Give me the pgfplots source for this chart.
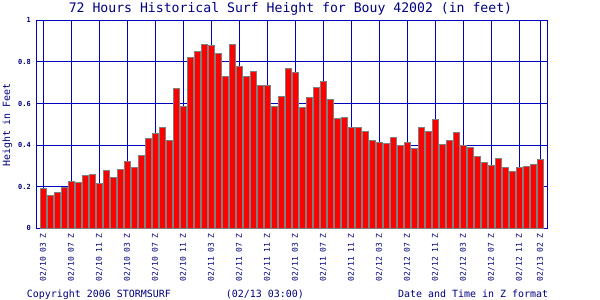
\documentclass[border=0pt]{standalone}
\usepackage{fontspec}
\setmainfont{DejaVu Sans Mono}
\setmonofont{DejaVu Sans Mono}
\usepackage{pgfplots}
\pgfplotsset{compat=1.18}
\definecolor{gridblue}{RGB}{0,0,190}
\definecolor{txtblue}{RGB}{0,0,128}
\definecolor{barred}{RGB}{255,0,0}
\definecolor{bargray}{RGB}{128,128,128}
\pgfplotstableread{
x y
0 0.191
1 0.159
2 0.172
3 0.198
4 0.225
5 0.220
6 0.256
7 0.259
8 0.217
9 0.278
10 0.246
11 0.283
12 0.322
13 0.294
14 0.352
15 0.434
16 0.457
17 0.487
18 0.423
19 0.674
20 0.587
21 0.823
22 0.852
23 0.886
24 0.881
25 0.838
26 0.732
27 0.886
28 0.780
29 0.732
30 0.756
31 0.688
32 0.688
33 0.587
34 0.635
35 0.770
36 0.751
37 0.582
38 0.630
39 0.678
40 0.707
41 0.621
42 0.529
43 0.534
44 0.486
45 0.486
46 0.466
47 0.423
48 0.413
49 0.408
50 0.437
51 0.399
52 0.413
53 0.384
54 0.486
55 0.466
56 0.524
57 0.404
58 0.423
59 0.461
60 0.399
61 0.389
62 0.346
63 0.317
64 0.302
65 0.336
66 0.293
67 0.273
68 0.293
69 0.297
70 0.307
71 0.331
}\surf
\begin{document}
\begin{tikzpicture}
\useasboundingbox (-36.7bp,-71.7bp) rectangle (563.3bp,228.3bp);
\begin{axis}[
  at={(0bp,0bp)}, anchor=south west,
  scale only axis, width=511bp, height=208bp,
  xmin=-0.95, xmax=72.05, ymin=0, ymax=1,
  axis line style={gridblue, line width=1bp},
  grid=major, grid style={gridblue, line width=1bp},
  major tick length=0pt,
  xtick={0,4,8,12,16,20,24,28,32,36,40,44,48,52,56,60,64,68,71},
  xticklabels={02/10 03 Z,02/10 07 Z,02/10 11 Z,02/10 03 Z,02/10 07 Z,02/10 11 Z,
    02/11 03 Z,02/11 07 Z,02/11 11 Z,02/11 03 Z,02/11 07 Z,02/11 11 Z,
    02/12 03 Z,02/12 07 Z,02/12 11 Z,02/12 03 Z,02/12 07 Z,02/12 11 Z,02/13 02 Z},
  xticklabel style={font=\fontsize{8}{8}\selectfont, text=txtblue, rotate=90, anchor=east, inner sep=0pt},
  xticklabel shift=4.7bp,
  ytick={0,0.2,0.4,0.6,0.8,1},
  yticklabels={0,0.2,0.4,0.6,0.8,1},
  yticklabel style={font=\fontsize{7}{7}\selectfont\bfseries, text=txtblue, anchor=east, inner sep=0pt},
  yticklabel shift=5.7bp,
]
\addplot[ybar, bar width=6bp, bar shift=0pt, fill=barred, draw=bargray, line width=1bp] table[x=x,y=y] {\surf};
\end{axis}
\node[anchor=base, text=txtblue, font=\fontsize{13.2}{13.2}\selectfont, inner sep=0pt] at (253.8bp,215.3bp) {72 Hours Historical Surf Height for Bouy 42002 (in feet)};
\node[rotate=90, anchor=center, text=txtblue, font=\fontsize{10}{10}\selectfont, inner sep=0pt] at (-29.2bp,103.3bp) {Height in Feet};
\node[anchor=base west, text=txtblue, font=\fontsize{10}{10}\selectfont, inner sep=0pt] at (-10bp,-69bp) {Copyright 2006 STORMSURF};
\node[anchor=base west, text=txtblue, font=\fontsize{10}{10}\selectfont, inner sep=0pt] at (189bp,-69bp) {(02/13 03:00)};
\node[anchor=base east, text=txtblue, font=\fontsize{10}{10}\selectfont, inner sep=0pt] at (511.6bp,-69bp) {Date and Time in Z format};
\end{tikzpicture}
\end{document}
